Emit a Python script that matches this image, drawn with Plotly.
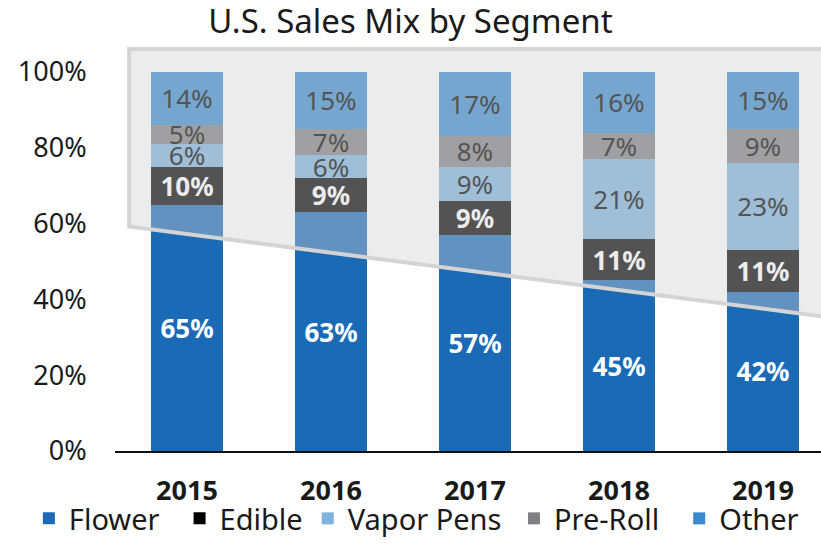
import plotly.graph_objects as go

years = ["2015", "2016", "2017", "2018", "2019"]
flower = [65, 63, 57, 45, 42]
edible = [10, 9, 9, 11, 11]
vapor_pens = [6, 6, 9, 21, 23]
pre_roll = [5, 7, 8, 7, 9]
other = [14, 15, 17, 16, 15]
y_ticks = [0, 20, 40, 60, 80, 100]

FONT = "Noto Sans"
NB = "\u00a0"

# name, values, colour, label colour, bold label, legend padding
series = [
    ("Flower", flower, "#1a6ab5", "white", True, 2),
    ("Edible", edible, "#000000", "white", True, 0),
    ("Vapor Pens", vapor_pens, "#7fb2dc", "#000000", False, 1),
    ("Pre-Roll", pre_roll, "#808084", "#000000", False, 2),
    ("Other", other, "#3a8ad0", "#000000", False, 0),
]

fig = go.Figure()
for name, vals, color, txtcolor, bold, pad in series:
    labels = [f"<b>{v}%</b>" if bold else f"{v}%" for v in vals]
    fig.add_trace(go.Bar(
        x=years, y=vals, name=name + NB * pad, marker_color=color, marker_line_width=0,
        text=labels, texttemplate="%{text}", textposition="inside",
        insidetextanchor="middle", textangle=0,
        textfont=dict(family=FONT, size=26, color=txtcolor),
        hoverinfo="skip",
    ))

# translucent grey panel over the upper part of the chart
fig.add_shape(
    type="path", xref="paper", yref="paper", layer="above",
    path="M 0.02,0.978 L 1.02,0.978 L 1.02,0.328 L 1.0,0.328 L 0.02,0.546 Z",
    fillcolor="rgba(208,208,208,0.4)",
    line=dict(color="#d4d4d4", width=4),
)

fig.update_layout(
    width=821, height=544,
    barmode="stack", bargap=0.5,
    plot_bgcolor="white", paper_bgcolor="white",
    margin=dict(l=115, r=0, t=40, b=92),
    font=dict(family=FONT, color="#1a1a1a"),
    title=dict(text="U.S. Sales Mix by Segment", x=0.5, xanchor="center",
               y=0.961, yanchor="middle", font=dict(family=FONT, size=33, color="#1a1a1a")),
    uniformtext=dict(minsize=26, mode="show"),
    showlegend=True,
    legend=dict(orientation="h", x=-0.122, xanchor="left", y=-0.164, yanchor="middle",
                bgcolor="rgba(0,0,0,0)",
                font=dict(family=FONT, size=29, color="#1a1a1a"),
                traceorder="normal", itemwidth=30),
)
fig.update_xaxes(
    range=[-0.5, 4.403], showline=True, linecolor="#111", linewidth=2,
    ticks="outside", ticklen=15, tickcolor="rgba(0,0,0,0)",
    tickfont=dict(family=FONT, size=27, color="#1a1a1a", weight="bold"),
    showgrid=False, zeroline=False, automargin=False,
)
fig.update_yaxes(
    range=[0, 108.4], tickvals=y_ticks, ticktext=[f"{t}%" for t in y_ticks],
    ticks="outside", ticklen=22, tickcolor="rgba(0,0,0,0)",
    tickfont=dict(family=FONT, size=27, color="#1a1a1a"),
    showgrid=False, zeroline=False, showline=False, automargin=False,
)

fig.write_html("out.html", config={"displayModeBar": False},
               post_script="document.body.style.margin='0';")
